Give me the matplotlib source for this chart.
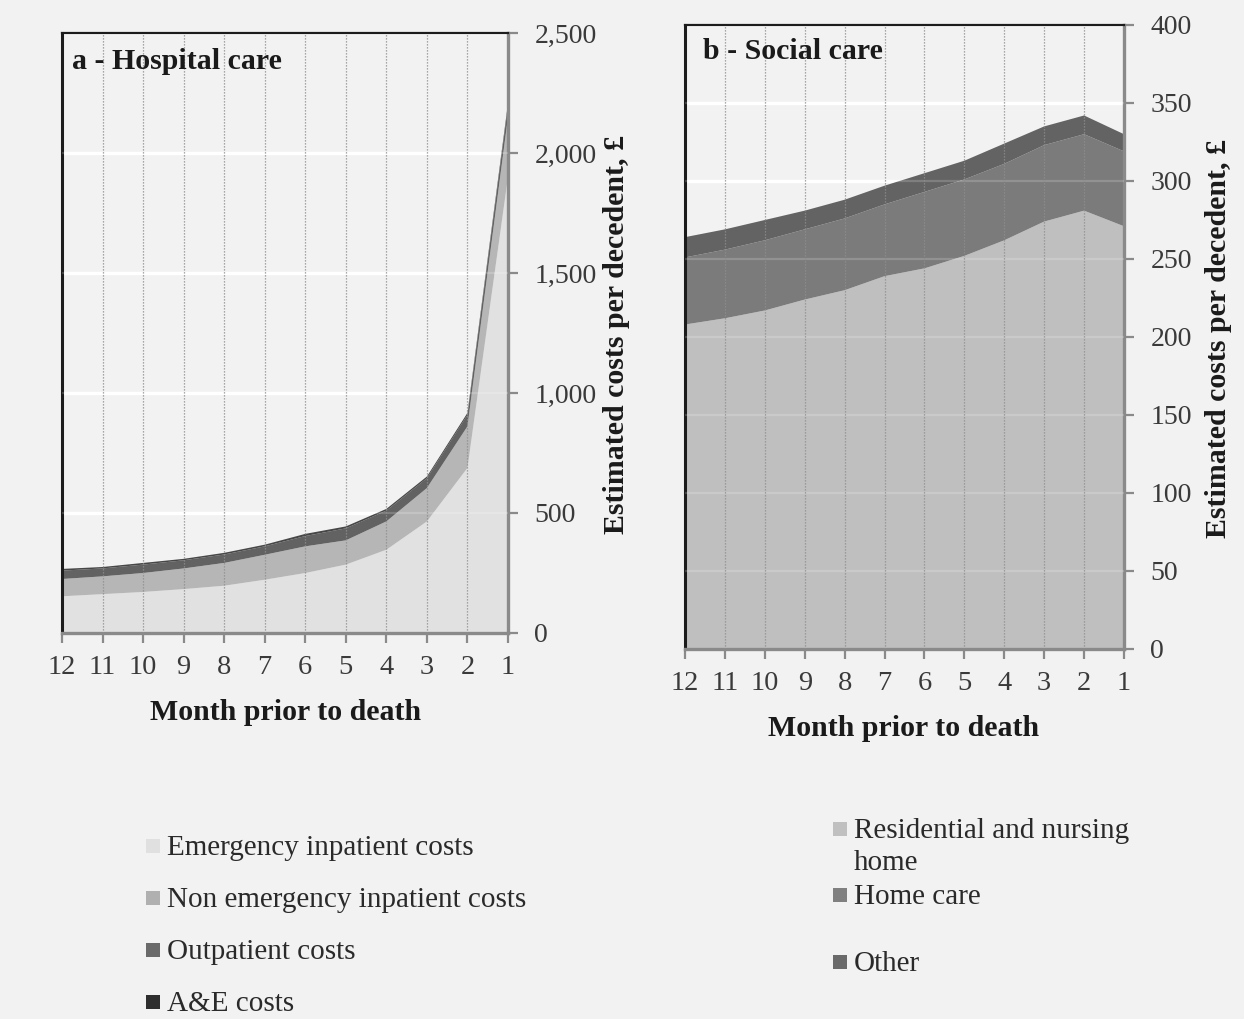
import matplotlib.pyplot as plt
from matplotlib.patches import Rectangle
from matplotlib.ticker import FuncFormatter

plt.rcParams['font.family'] = ['Liberation Serif', 'DejaVu Serif']

BG = '#f2f2f2'

months = [12, 11, 10, 9, 8, 7, 6, 5, 4, 3, 2, 1]

# hospital care, estimated cost per decedent (£)
emergency = [153, 162, 171, 183, 197, 222, 250, 285, 347, 465, 688, 1900]
non_emergency = [72, 74, 79, 86, 95, 104, 111, 101, 118, 139, 173, 250]
outpatient = [35, 33, 35, 34, 35, 35, 43, 50, 45, 41, 48, 46]
a_and_e = [7, 6, 7, 6, 7, 7, 9, 8, 7, 7, 8, 12]
hospital_labels = ['Emergency inpatient costs', 'Non emergency inpatient costs',
                   'Outpatient costs', 'A&E costs']
hospital_colors = ['#e1e1e1', '#b6b6b6', '#626262', '#474747']
hospital_legend_colors = ['#e0e0e0', '#b0b0b0', '#6a6a6a', '#2e2e2e']

# social care, estimated cost per decedent (£)
residential = [208, 212, 217, 224, 230, 239, 244, 252, 262, 274, 281, 271]
home_care = [43, 44, 45, 45, 46, 46, 49, 49, 49, 49, 49, 48]
other = [13, 13, 13, 12, 12, 12, 12, 12, 13, 12, 12, 11]
social_labels = ['Residential and nursing\nhome', 'Home care', 'Other']
social_colors = ['#bfbfbf', '#7b7b7b', '#636363']
social_legend_colors = ['#c0c0c0', '#808080', '#6a6a6a']

W, H = 1244, 1019
fig = plt.figure(figsize=(W / 100, H / 100), dpi=100, facecolor=BG)


def px_axes(left, top, right, bottom):
    return fig.add_axes([left / W, 1 - bottom / H, (right - left) / W, (bottom - top) / H])


def style_panel(ax, ymax, step, fmt):
    ax.set_facecolor(BG)
    ax.set_xlim(12, 1)
    ax.set_ylim(0, ymax)
    ax.set_xticks(months)
    ax.set_yticks(range(0, ymax + 1, step))
    ax.yaxis.set_major_formatter(FuncFormatter(fmt))
    ax.yaxis.tick_right()
    ax.set_axisbelow(True)
    ax.yaxis.grid(True, color='white', lw=2.4)
    # faint grid showing through the filled areas
    for y in range(step, ymax, step):
        ax.axhline(y, color='white', lw=1.6, alpha=0.18, zorder=3)
    for m in months[1:-1]:
        ax.axvline(m, color='#8e8e8e', lw=0.9, ls=(0, (1, 1.4)), zorder=3)
    for side in ['left', 'top']:
        ax.spines[side].set_color('#1c1c1c')
    ax.spines['left'].set_linewidth(2.2)
    ax.spines['top'].set_linewidth(1.6)
    for side in ['right', 'bottom']:
        ax.spines[side].set_color('#8a8a8a')
        ax.spines[side].set_linewidth(2.4)
    ax.tick_params(axis='y', direction='out', length=7, width=1.6, color='#8a8a8a',
                   pad=12, labelsize=20, labelcolor='#3a3a3a')
    ax.tick_params(axis='x', direction='out', length=7, width=1.6, color='#8a8a8a',
                   pad=9, labelsize=20.5, labelcolor='#3a3a3a')


# a - hospital care
ax1 = px_axes(62, 33, 508, 633)
ax1.stackplot(months, emergency, non_emergency, outpatient, a_and_e,
              colors=hospital_colors, lw=0, zorder=2)
style_panel(ax1, 2500, 500, lambda v, p: f'{int(v):,}')
ax1.text(0.022, 0.953, 'a - Hospital care', transform=ax1.transAxes,
         fontsize=21.5, fontweight='bold', va='center', ha='left', color='#1a1a1a')

# b - social care
ax2 = px_axes(685, 25, 1124, 649)
ax2.stackplot(months, residential, home_care, other,
              colors=social_colors, lw=0, zorder=2)
style_panel(ax2, 400, 50, lambda v, p: f'{int(v)}')
ax2.text(0.041, 0.958, 'b - Social care', transform=ax2.transAxes,
         fontsize=21.5, fontweight='bold', va='center', ha='left', color='#1a1a1a')

# axis titles
ylab = 'Estimated costs per decedent, £'
fig.text(617 / W, 1 - 334 / H, ylab, rotation=90, ha='center', va='center',
         fontsize=21.5, fontweight='bold', color='#1a1a1a')
fig.text(1219 / W, 1 - 338 / H, ylab, rotation=90, ha='center', va='center',
         fontsize=21.5, fontweight='bold', color='#1a1a1a')
fig.text(286 / W, 1 - 712 / H, 'Month prior to death', ha='center', va='center',
         fontsize=21.5, fontweight='bold', color='#1a1a1a')
fig.text(904 / W, 1 - 728 / H, 'Month prior to death', ha='center', va='center',
         fontsize=21.5, fontweight='bold', color='#1a1a1a')


def legend_entry(x, y, color, label):
    fig.add_artist(Rectangle((x / W, 1 - (y + 7) / H), 14 / W, 14 / H,
                             transform=fig.transFigure, color=color, lw=0))
    fig.text((x + 21) / W, 1 - (y - 11) / H, label, ha='left', va='top',
             fontsize=21, color='#2a2a2a', linespacing=1.28)


for lab, col, y in zip(hospital_labels, hospital_legend_colors, [846, 898, 950, 1002]):
    legend_entry(146, y, col, lab)
for lab, col, y in zip(social_labels, social_legend_colors, [829, 895, 962]):
    legend_entry(833, y, col, lab)

fig.savefig('out.png', dpi=100, facecolor=BG)
